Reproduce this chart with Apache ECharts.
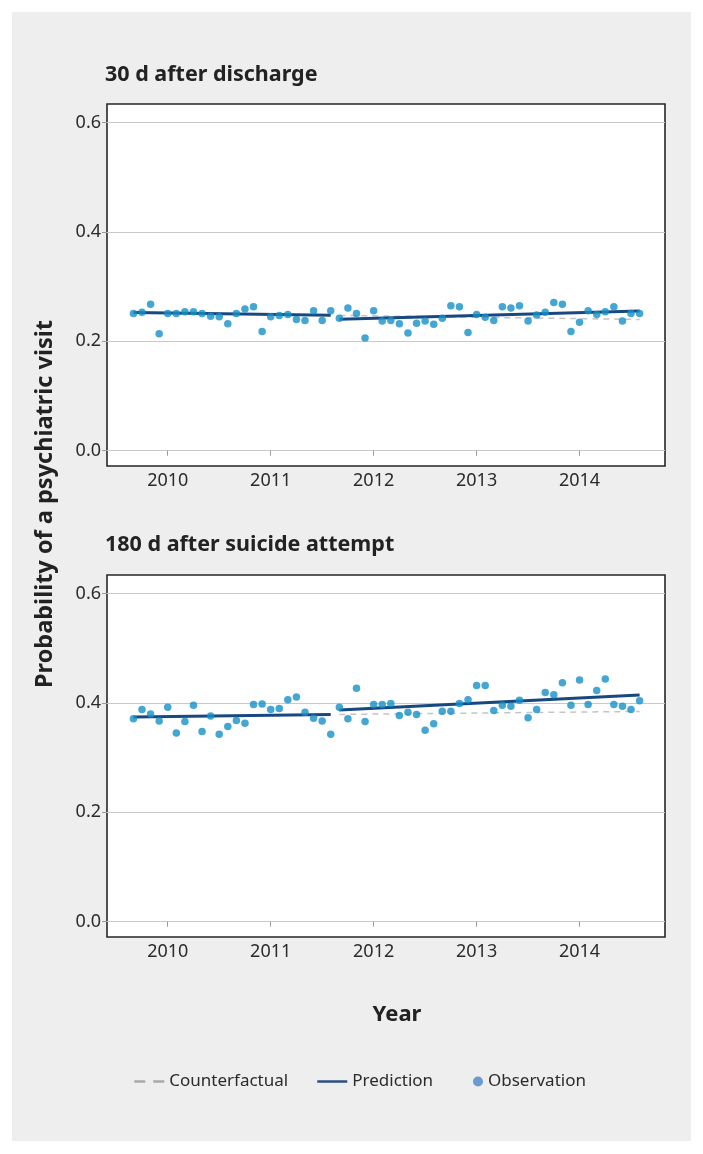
<!DOCTYPE html>
<html>
<head>
<meta charset="utf-8">
<script src="https://cdn.jsdelivr.net/npm/echarts@6/dist/echarts.min.js"></script>
<style>
  html, body { margin: 0; padding: 0; background: #fff; }
  #chart { width: 703px; height: 1154px; }
</style>
</head>
<body>
<div id="chart"></div>
<script>
// monthly observations, Sep 2009 .. Aug 2014; interruption starts Sep 2011
const firstMonth = 2009 + 8 / 12;
const breakIndex = 24;
const yearTicks = [2010, 2011, 2012, 2013, 2014];
const probTicks = [0, 0.2, 0.4, 0.6];

const obsDischarge = [
  0.251, 0.253, 0.268, 0.214, 0.251, 0.251, 0.254, 0.254, 0.251, 0.246, 0.245, 0.232,
  0.251, 0.259, 0.263, 0.218, 0.245, 0.247, 0.249, 0.240, 0.238, 0.256, 0.238, 0.256,
  0.242, 0.261, 0.251, 0.206, 0.256, 0.237, 0.238, 0.232, 0.215, 0.233, 0.237, 0.231,
  0.242, 0.265, 0.263, 0.216, 0.249, 0.244, 0.238, 0.263, 0.261, 0.265, 0.237, 0.248,
  0.253, 0.271, 0.268, 0.218, 0.235, 0.256, 0.249, 0.254, 0.263, 0.237, 0.251, 0.251
];
const obsSuicide = [
  0.371, 0.388, 0.380, 0.367, 0.392, 0.345, 0.366, 0.396, 0.348, 0.376, 0.343, 0.357,
  0.368, 0.363, 0.397, 0.398, 0.388, 0.390, 0.406, 0.411, 0.383, 0.372, 0.367, 0.343,
  0.392, 0.371, 0.427, 0.366, 0.397, 0.397, 0.399, 0.377, 0.383, 0.379, 0.350, 0.362,
  0.385, 0.385, 0.399, 0.406, 0.432, 0.432, 0.386, 0.396, 0.394, 0.405, 0.373, 0.388,
  0.419, 0.415, 0.437, 0.396, 0.442, 0.397, 0.423, 0.444, 0.397, 0.394, 0.388, 0.404
];
// fitted segment endpoints [start, end] before / after the break
const predDischarge = [[0.2525, 0.2476], [0.2403, 0.2556]];
const cfDischarge = [0.2474, 0.2400];
const predSuicide = [[0.3744, 0.3787], [0.3872, 0.4146]];
const cfSuicide = [0.3790, 0.3845];

const panelTitles = ["30 d after discharge", "180 d after suicide attempt"];

const FONT = "Noto Sans";
const DARK = "#17487f";
const CF = "#c4c4c4";
const monthX = obsDischarge.map((_, i) => firstMonth + i / 12);
const last = monthX.length - 1;

function panelSeries(idx, obs, pred, cf) {
  return [
    {
      name: "Counterfactual", type: "line", xAxisIndex: idx, yAxisIndex: idx,
      symbol: "none", z: 2, silent: true,
      itemStyle: { color: CF },
      lineStyle: { color: CF, width: 1.5, type: [6, 5] },
      data: [[monthX[breakIndex], cf[0]], [monthX[last], cf[1]]]
    },
    {
      name: "Prediction", type: "line", xAxisIndex: idx, yAxisIndex: idx,
      symbol: "none", z: 3, silent: true,
      itemStyle: { color: DARK },
      lineStyle: { color: DARK, width: 3 },
      data: [[monthX[0], pred[0][0]], [monthX[breakIndex - 1], pred[0][1]]]
    },
    {
      name: "Prediction", type: "line", xAxisIndex: idx, yAxisIndex: idx,
      symbol: "none", z: 3, silent: true,
      itemStyle: { color: DARK },
      lineStyle: { color: DARK, width: 3 },
      data: [[monthX[breakIndex], pred[1][0]], [monthX[last], pred[1][1]]]
    },
    {
      name: "Observation", type: "scatter", xAxisIndex: idx, yAxisIndex: idx,
      symbolSize: 7.5, z: 4,
      itemStyle: { color: "#1590c8" },
      data: obs.map((v, i) => [monthX[i], v])
    }
  ];
}

function xAxis(idx) {
  return {
    gridIndex: idx, type: "value", min: 2009.41, max: 2014.83,
    axisLine: { show: false },
    axisTick: { show: true, customValues: yearTicks, length: 5, lineStyle: { color: "#9a9a9a" } },
    axisLabel: { customValues: yearTicks, formatter: v => String(Math.round(v)),
      color: "#2b2b2b", fontSize: 18, fontFamily: FONT, margin: 6 },
    splitLine: { show: false }
  };
}

function yAxis(idx) {
  return {
    gridIndex: idx, type: "value", min: -0.028, max: 0.634,
    axisLine: { show: false },
    axisTick: { show: true, customValues: probTicks, length: 5, lineStyle: { color: "#9a9a9a" } },
    axisLabel: { customValues: probTicks, formatter: v => v.toFixed(1),
      color: "#2b2b2b", fontSize: 18, fontFamily: FONT, margin: 6 },
    splitLine: { show: true, lineStyle: { color: "#c9c9c9", width: 1 } }
  };
}

const legendText = { color: "#2b2b2b", fontSize: 17, fontFamily: FONT };

const chart = echarts.init(document.getElementById("chart"), null, { renderer: "canvas" });
chart.setOption({
  animation: false,
  backgroundColor: "#ffffff",
  textStyle: { fontFamily: FONT },
  grid: [
    { left: 107, right: 38, top: 104, height: 362, show: true, backgroundColor: "#ffffff",
      borderColor: "#262626", borderWidth: 1.6 },
    { left: 107, right: 38, top: 575, height: 362, show: true, backgroundColor: "#ffffff",
      borderColor: "#262626", borderWidth: 1.6 }
  ],
  xAxis: [xAxis(0), xAxis(1)],
  yAxis: [yAxis(0), yAxis(1)],
  legend: [
    { data: ["Counterfactual"], left: 128, top: 1068, itemWidth: 30, itemHeight: 12,
      textStyle: legendText, selectedMode: false, itemStyle: { opacity: 0 },
      lineStyle: { width: 2.5, color: "#a9a9a9", type: [11, 8] } },
    { data: ["Prediction"], left: 311, top: 1068, itemWidth: 30, itemHeight: 12,
      textStyle: legendText, selectedMode: false, itemStyle: { opacity: 0 },
      lineStyle: { width: 2.5, color: "#2a4f86" } },
    { data: [{ name: "Observation", itemStyle: { color: "#4a84c6" } }], left: 468, top: 1068,
      itemWidth: 10, itemHeight: 10, textStyle: legendText, selectedMode: false }
  ],
  graphic: [
    { type: "rect", left: 12, top: 12, z: -10, silent: true,
      shape: { width: 679, height: 1129 }, style: { fill: "#edeeed" } },
    { type: "text", left: 105, top: 64, silent: true,
      style: { text: panelTitles[0], font: "bold 21.5px " + FONT, fill: "#222" } },
    { type: "text", left: 105, top: 534, silent: true,
      style: { text: panelTitles[1], font: "bold 21.5px " + FONT, fill: "#222" } },
    { type: "text", x: 45, y: 504, rotation: Math.PI / 2, silent: true,
      style: { text: "Probability of a psychiatric visit", font: "bold 23.5px " + FONT,
        fill: "#222", align: "center", verticalAlign: "middle" } },
    { type: "text", x: 397, y: 1015, silent: true,
      style: { text: "Year", font: "bold 22px " + FONT, fill: "#222",
        align: "center", verticalAlign: "middle" } }
  ],
  series: [
    ...panelSeries(0, obsDischarge, predDischarge, cfDischarge),
    ...panelSeries(1, obsSuicide, predSuicide, cfSuicide)
  ]
});
</script>
</body>
</html>
